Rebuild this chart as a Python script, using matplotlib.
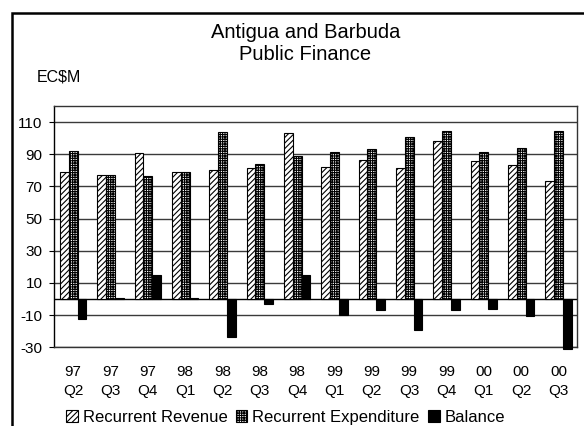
import numpy as np
import matplotlib.pyplot as plt
from matplotlib.patches import Rectangle

plt.rcParams['font.family'] = ['Liberation Sans', 'DejaVu Sans']
plt.rcParams['axes.unicode_minus'] = False
plt.rcParams['hatch.linewidth'] = 0.8
plt.rcParams['hatch.color'] = 'black'

quarters = ['97\nQ2', '97\nQ3', '97\nQ4', '98\nQ1', '98\nQ2', '98\nQ3', '98\nQ4',
            '99\nQ1', '99\nQ2', '99\nQ3', '99\nQ4', '00\nQ1', '00\nQ2', '00\nQ3']
revenue = [78.9, 77.3, 90.7, 78.9, 80.0, 81.6, 103.0,
           82.2, 86.6, 81.4, 98.0, 85.8, 83.3, 73.3]
expenditure = [92.2, 77.3, 76.4, 78.9, 103.8, 83.9, 88.9,
               91.4, 93.0, 100.5, 104.6, 91.4, 93.8, 104.6]
balance = [-12.6, 0.5, 14.9, 0.5, -23.4, -2.9, 14.9,
           -10.2, -7.0, -19.3, -7.0, -6.0, -10.6, -31.3]

fig = plt.figure(figsize=(5.84, 4.26), dpi=100)
ax = fig.add_axes([0.0933, 0.1847, 0.895, 0.5665])

x = np.arange(len(quarters))
w = 0.233
ax.bar(x - w, revenue, w, color='white', edgecolor='black', hatch='//////',
       linewidth=0.8, zorder=3, label='Recurrent Revenue')
ax.bar(x, expenditure, w, color='white', edgecolor='black', hatch='+++++++',
       linewidth=0.8, zorder=3, label='Recurrent Expenditure')
ax.bar(x + w, balance, w, color='black', edgecolor='black',
       linewidth=0.8, zorder=3, label='Balance', clip_on=False)

ax.set_xlim(-0.5, len(quarters) - 0.5)
ax.set_ylim(-30, 120)
ax.set_yticks(np.arange(-30, 111, 20))
ax.yaxis.grid(True, color='#3a3a3a', linewidth=1.0, zorder=0)
ax.set_axisbelow(True)
ax.axhline(0, color='black', linewidth=1.0, zorder=2)

ax.set_xticks(x)
ax.set_xticklabels(quarters, fontsize=11, linespacing=1.45)
ax.tick_params(axis='x', length=0, pad=13)
ax.tick_params(axis='y', labelsize=11, length=3.6, width=0.8, pad=5.0, direction='out')

for side in ['top', 'right', 'bottom']:
    ax.spines[side].set_color('#333333')
    ax.spines[side].set_linewidth(1.0)
ax.spines['left'].set_color('black')
ax.spines['left'].set_linewidth(1.0)

fig.text(0.523, 0.898, 'Antigua and Barbuda\nPublic Finance', ha='center', va='center',
         fontsize=14.5, linespacing=1.15)
fig.text(0.063, 0.819, 'EC$M', ha='left', va='center', fontsize=11.5)

fig.legend(loc='center', bbox_to_anchor=(0.489, 0.021), ncol=3, frameon=False,
           fontsize=12, handlelength=0.7, handleheight=0.7, handletextpad=0.3,
           columnspacing=0.5, borderaxespad=0)

# outer chart frame, running off the right and bottom edges
fig.patches.append(Rectangle((12 / 584, -0.1), 1.2, 1.1 - 13 / 426, transform=fig.transFigure,
                             fill=False, edgecolor='black', linewidth=1.8, clip_on=False))

fig.savefig('out.png', dpi=100)
